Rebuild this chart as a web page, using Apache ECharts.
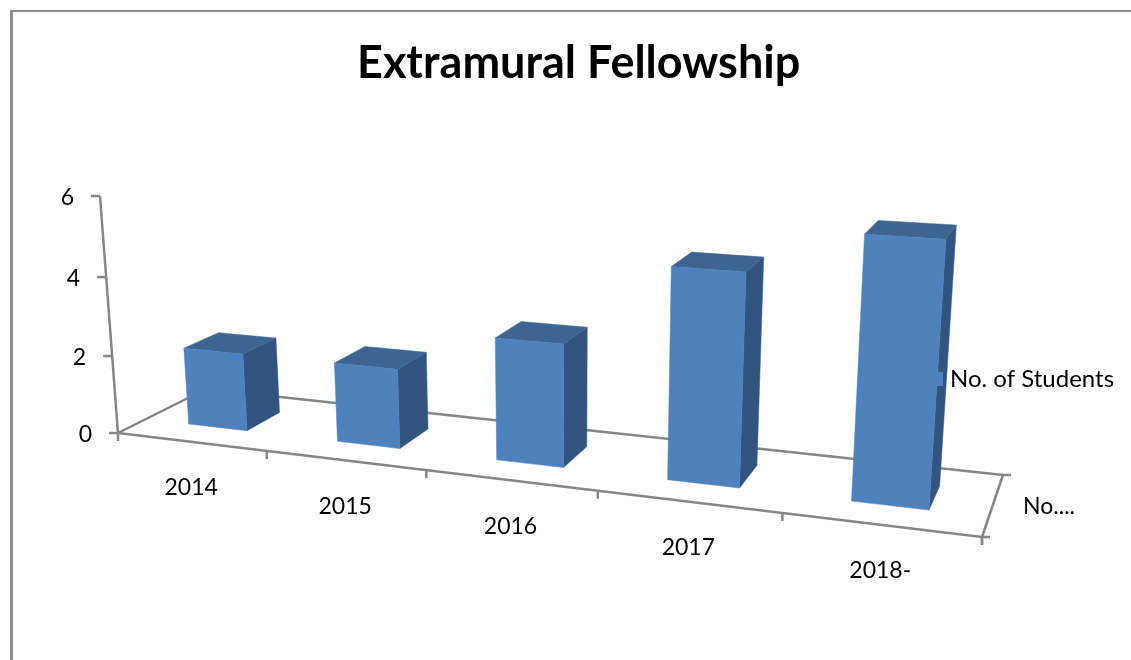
<!DOCTYPE html>
<html>
<head>
<meta charset="utf-8">
<style>
  html, body { margin: 0; padding: 0; background: #fff; }
  #chart { width: 1131px; height: 660px; }
</style>
<script src="https://cdn.jsdelivr.net/npm/echarts@6/dist/echarts.min.js"></script>
</head>
<body>
<div id="chart"></div>
<script>
const categories = ['2014', '2015', '2016', '2017', '2018-']
const students = [2, 2, 3, 5, 6]
const yTicks = [0, 2, 4, 6]
const seriesName = 'No. of Students'
const depthLabel = 'No....'

const yMax = 6
const barFraction = 0.4 // gap width 150%
const depthFront = 0.3
const depthBack = 0.7

const axisColor = '#868686'
const textColor = '#000'
const fontFamily = 'Lato'
const labelSize = 23

// the picture's floor corners and the point the verticals run to
const floor = {
  frontLeft: [118, 433],
  frontRight: [982, 537],
  backRight: [1003, 475],
  backLeft: [206, 389]
}
const vanish = [566, 6331]
const axisTop = [100, 196]

function floorMatrix() {
  const [x0, y0] = floor.frontLeft
  const [x1, y1] = floor.frontRight
  const [x2, y2] = floor.backRight
  const [x3, y3] = floor.backLeft
  const dx1 = x1 - x2
  const dx2 = x3 - x2
  const sx = x0 - x1 + x2 - x3
  const dy1 = y1 - y2
  const dy2 = y3 - y2
  const sy = y0 - y1 + y2 - y3
  const den = dx1 * dy2 - dx2 * dy1
  const g = (sx * dy2 - dx2 * sy) / den
  const h = (dx1 * sy - sx * dy1) / den
  return {
    a: x1 - x0 + g * x1,
    b: x3 - x0 + h * x3,
    c: x0,
    d: y1 - y0 + g * y1,
    e: y3 - y0 + h * y3,
    f: y0,
    g,
    h
  }
}

const m = floorMatrix()
// height column, scaled so value yMax lands on the top of the y axis
const heightScale = (axisTop[1] - floor.frontLeft[1]) / (yMax * (vanish[1] - axisTop[1]))

// u: 0..1 along the categories, v: 0..1 into the picture, w: value
function project(u, v, w) {
  const k = heightScale * w
  const q = m.g * u + m.h * v + 1 + k
  return [
    (m.a * u + m.b * v + m.c + k * vanish[0]) / q,
    (m.d * u + m.e * v + m.f + k * vanish[1]) / q
  ]
}

// hidden grid gives u and w from the axes' own scales
function toU(params, px) {
  return (px - params.coordSys.x) / params.coordSys.width
}
function toW(params, py) {
  return (params.coordSys.y + params.coordSys.height - py) / params.coordSys.height * yMax
}

function face(points, fill) {
  return {
    type: 'polygon',
    shape: { points },
    style: { fill, stroke: fill, lineWidth: 0.5 }
  }
}

function seg(a, b) {
  return {
    type: 'line',
    shape: { x1: a[0], y1: a[1], x2: b[0], y2: b[1] },
    style: { stroke: axisColor, lineWidth: 2.5 }
  }
}

function label(text, x, y, align) {
  return {
    type: 'text',
    style: {
      text,
      x,
      y,
      align,
      verticalAlign: 'middle',
      fontSize: labelSize,
      fontFamily,
      fill: textColor
    }
  }
}

function renderBar(params, api) {
  const p = api.coord([api.value(0), api.value(1)])
  const half = api.size([1, 0])[0] * barFraction / 2
  const u0 = toU(params, p[0] - half)
  const u1 = toU(params, p[0] + half)
  const w = toW(params, p[1])
  const fbl = project(u0, depthFront, 0)
  const fbr = project(u1, depthFront, 0)
  const ftl = project(u0, depthFront, w)
  const ftr = project(u1, depthFront, w)
  const bbr = project(u1, depthBack, 0)
  const btl = project(u0, depthBack, w)
  const btr = project(u1, depthBack, w)
  return {
    type: 'group',
    children: [
      face([ftr, btr, bbr, fbr], '#32557f'),
      face([ftl, btl, btr, ftr], '#3e6592'),
      face([ftl, ftr, fbr, fbl], '#4f81bd')
    ]
  }
}

function renderCategory(params, api) {
  const i = api.value(0)
  const p = api.coord([i, 0])
  const half = api.size([1, 0])[0] / 2
  const edge = project(toU(params, p[0] + half), 0, 0)
  const mid = project(toU(params, p[0]), 0, 0)
  return {
    type: 'group',
    children: [
      label(categories[i], mid[0], mid[1] + 46, 'center'),
      seg(edge, [edge[0], edge[1] + 8])
    ]
  }
}

function renderYTick(params, api) {
  const t = api.value(1)
  const at = project(0, 0, toW(params, api.coord([0, t])[1]))
  return {
    type: 'group',
    children: [
      seg(at, [at[0] - 9, at[1]]),
      label(String(t), at[0] - 26, at[1] + 1.5, 'right')
    ]
  }
}

function renderFloor() {
  const fl = project(0, 0, 0)
  const fr = project(1, 0, 0)
  const br = project(1, 1, 0)
  const bl = project(0, 1, 0)
  const top = project(0, 0, yMax)
  const side = project(1, 0.5, 0)
  return {
    type: 'group',
    children: [
      seg(fl, bl),
      seg(bl, br),
      seg(br, fr),
      seg(fl, fr),
      seg(fl, top),
      seg(br, [br[0] + 8, br[1]]),
      seg(fr, [fr[0] + 8, fr[1]]),
      seg(fl, [fl[0], fl[1] + 8]),
      seg(fr, [fr[0], fr[1] + 8]),
      label(depthLabel, side[0] + 30, side[1] + 2, 'left')
    ]
  }
}

const chart = echarts.init(document.getElementById('chart'), null, { renderer: 'canvas' })
chart.setOption({
  animation: false,
  backgroundColor: '#fff',
  title: {
    text: 'Extramural Fellowship',
    left: 357,
    top: 41,
    padding: 0,
    textStyle: {
      color: textColor,
      fontFamily,
      fontWeight: 'bold',
      fontSize: 45
    }
  },
  legend: {
    left: 929,
    top: 367,
    padding: 0,
    itemWidth: 14,
    itemHeight: 14,
    itemGap: 8,
    icon: 'rect',
    data: [seriesName],
    textStyle: {
      color: textColor,
      fontFamily,
      fontSize: 24,
      padding: [0, 0, 0, 2]
    }
  },
  grid: { left: 100, right: 100, top: 100, bottom: 100, show: false },
  xAxis: { type: 'category', data: categories, show: false },
  yAxis: { type: 'value', min: 0, max: yMax, interval: 2, show: false },
  graphic: [
    {
      type: 'line',
      silent: true,
      shape: { x1: 10, y1: 11, x2: 1131, y2: 11 },
      style: { stroke: '#8e8e8e', lineWidth: 2 }
    },
    {
      type: 'line',
      silent: true,
      shape: { x1: 11.5, y1: 10, x2: 11.5, y2: 660 },
      style: { stroke: '#8e8e8e', lineWidth: 3 }
    }
  ],
  series: [
    {
      type: 'custom',
      name: 'floor',
      silent: true,
      z: 1,
      renderItem: renderFloor,
      data: [0]
    },
    {
      type: 'custom',
      name: 'yTicks',
      silent: true,
      z: 1,
      renderItem: renderYTick,
      encode: { x: 0, y: 1 },
      data: yTicks.map(t => [0, t])
    },
    {
      type: 'custom',
      name: 'categories',
      silent: true,
      z: 1,
      renderItem: renderCategory,
      encode: { x: 0 },
      data: categories.map((c, i) => [i])
    },
    {
      type: 'custom',
      name: seriesName,
      z: 2,
      itemStyle: { color: '#4f81bd' },
      renderItem: renderBar,
      encode: { x: 0, y: 1 },
      data: students.map((v, i) => [i, v])
    }
  ]
})
</script>
</body>
</html>
